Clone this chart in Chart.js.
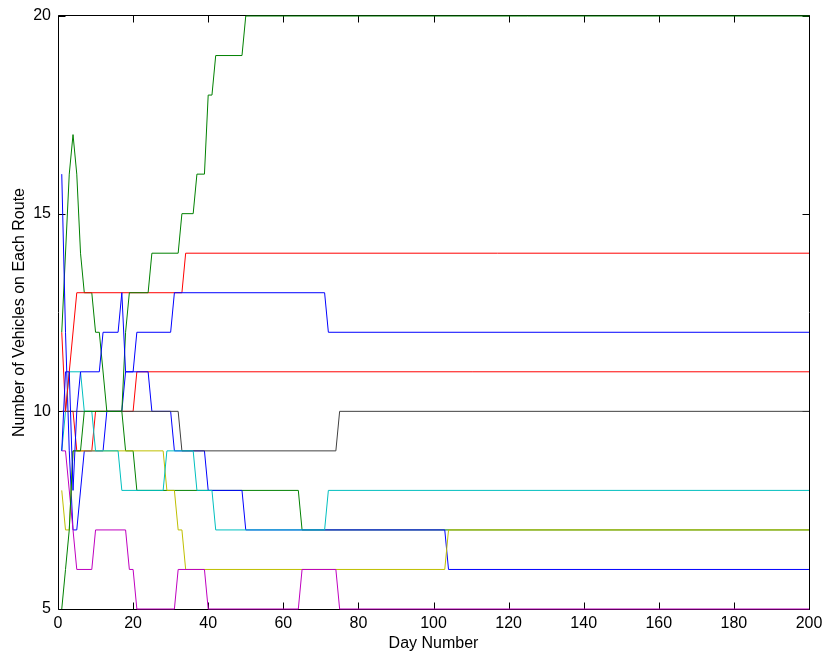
<!DOCTYPE html>
<html>
<head>
<meta charset="utf-8">
<script src="https://cdn.jsdelivr.net/npm/chart.js@4.4.0/dist/chart.umd.min.js"></script>
<style>
  html, body { margin: 0; padding: 0; background: #fff; }
  #wrap { width: 825px; height: 654px; }
</style>
</head>
<body>
<div id="wrap"><canvas id="routeChart"></canvas></div>
<script>
// each route: corner points of the curve, [day, vehicles on route]
const route1 = [[1, 9], [2, 11], [3, 11], [4, 8], [5, 10], [6, 11], [11, 11], [12, 12], [16, 12], [17, 13], [18, 11], [20, 11], [21, 12], [30, 12], [31, 13], [71, 13], [72, 12], [200, 12]];
const route2 = [[1, 5], [2, 6], [3, 7], [4, 9], [6, 9], [7, 10], [17, 10], [18, 12], [19, 13], [24, 13], [25, 14], [32, 14], [33, 15], [36, 15], [37, 16], [39, 16], [40, 18], [41, 18], [42, 19], [49, 19], [50, 20], [200, 20]];
const route3 = [[1, 12], [2, 10], [5, 13], [33, 13], [34, 14], [200, 14]];
const route4 = [[1, 9], [2, 10], [3, 11], [6, 11], [7, 10], [9, 10], [10, 9], [16, 9], [17, 8], [28, 8], [29, 9], [36, 9], [37, 8], [41, 8], [42, 7], [71, 7], [72, 8], [200, 8]];
const route5 = [[1, 9], [2, 9], [5, 6], [9, 6], [10, 7], [18, 7], [19, 6], [20, 6], [21, 5], [31, 5], [32, 6], [39, 6], [40, 5], [64, 5], [65, 6], [74, 6], [75, 5], [200, 5]];
const route6 = [[1, 8], [2, 7], [3, 7], [4, 9], [28, 9], [29, 8], [31, 8], [32, 7], [33, 7], [34, 6], [103, 6], [104, 7], [200, 7]];
const route7 = [[1, 10], [32, 10], [33, 9], [74, 9], [75, 10], [200, 10]];
const route8 = [[1, 16], [2, 12], [3, 9], [4, 7], [5, 7], [7, 9], [12, 9], [13, 10], [17, 10], [18, 11], [24, 11], [25, 10], [30, 10], [31, 9], [39, 9], [40, 8], [49, 8], [50, 7], [103, 7], [104, 6], [200, 6]];
const route9 = [[1, 12], [3, 16], [4, 17], [5, 16], [6, 14], [7, 13], [9, 13], [10, 12], [11, 12], [13, 10], [17, 10], [18, 9], [20, 9], [21, 8], [64, 8], [65, 7], [200, 7]];
const route10 = [[1, 10], [4, 10], [5, 9], [9, 9], [10, 10], [20, 10], [21, 11], [200, 11]];

const routes = [route1, route2, route3, route4, route5, route6, route7, route8, route9, route10];
const routeColors = ['#0000ff', '#008000', '#ff0000', '#00bfbf', '#bf00bf', '#bfbf00', '#404040', '#0000ff', '#008000', '#ff0000'];

const xTicks = [0, 20, 40, 60, 80, 100, 120, 140, 160, 180, 200];
const yTicks = [5, 10, 15, 20];

const FONT = { family: "'Liberation Sans', Arial, sans-serif", size: 16 };

// matlab style box with ticks pointing inwards
const boxPlugin = {
  id: 'boxPlugin',
  beforeDatasetsDraw(chart) {
    const { ctx, chartArea: a, scales } = chart;
    const L = Math.round(a.left) + 0.5;
    const R = Math.round(a.right) + 0.5;
    const T = Math.round(a.top) - 0.5;
    const B = Math.round(a.bottom) + 0.5;
    const len = 7;
    ctx.save();
    ctx.strokeStyle = '#000';
    ctx.lineWidth = 1;
    ctx.beginPath();
    ctx.moveTo(L, T); ctx.lineTo(R, T); ctx.lineTo(R, B); ctx.lineTo(L, B); ctx.closePath();
    xTicks.forEach(v => {
      const px = Math.round(scales.x.getPixelForValue(v)) + 0.5;
      ctx.moveTo(px, B); ctx.lineTo(px, B - len);
      ctx.moveTo(px, T); ctx.lineTo(px, T + len);
    });
    yTicks.forEach(v => {
      const py = Math.round(scales.y.getPixelForValue(v)) + 0.5;
      ctx.moveTo(L, py); ctx.lineTo(L + len, py);
      ctx.moveTo(R, py); ctx.lineTo(R - len, py);
    });
    ctx.stroke();
    ctx.restore();
  }
};

const datasets = routes.map((pts, i) => ({
  label: 'Route ' + (i + 1),
  data: pts.map(p => ({ x: p[0], y: p[1] })),
  borderColor: routeColors[i],
  backgroundColor: routeColors[i],
  borderWidth: 1,
  pointRadius: 0,
  tension: 0,
  fill: false,
  clip: false
}));

new Chart(document.getElementById('routeChart'), {
  type: 'line',
  data: { datasets },
  options: {
    responsive: true,
    maintainAspectRatio: false,
    animation: false,
    events: [],
    layout: { padding: { left: 0, right: 16, top: 16, bottom: 0 } },
    plugins: {
      legend: { display: false },
      tooltip: { enabled: false }
    },
    scales: {
      x: {
        type: 'linear',
        min: 0,
        max: 200,
        grid: { display: false, drawTicks: false },
        border: { display: false },
        afterBuildTicks: s => { s.ticks = xTicks.map(v => ({ value: v })); },
        afterFit: s => { s.height = 45; s.paddingLeft = 0; s.paddingRight = 0; },
        ticks: { color: '#000', font: FONT, padding: 5, maxRotation: 0, autoSkip: false },
        title: { display: true, text: 'Day Number', color: '#000', font: FONT, padding: { top: 0, bottom: 1 } }
      },
      y: {
        type: 'linear',
        min: 5,
        max: 20,
        grid: { display: false, drawTicks: false },
        border: { display: false },
        afterBuildTicks: s => { s.ticks = yTicks.map(v => ({ value: v })); },
        afterFit: s => { s.width = 58; s.paddingTop = 0; s.paddingBottom = 0; },
        ticks: { color: '#000', font: FONT, padding: 7 },
        title: { display: true, text: 'Number of Vehicles on Each Route', color: '#000', font: FONT, padding: { top: 10, bottom: 0 } }
      }
    }
  },
  plugins: [boxPlugin]
});
</script>
</body>
</html>
